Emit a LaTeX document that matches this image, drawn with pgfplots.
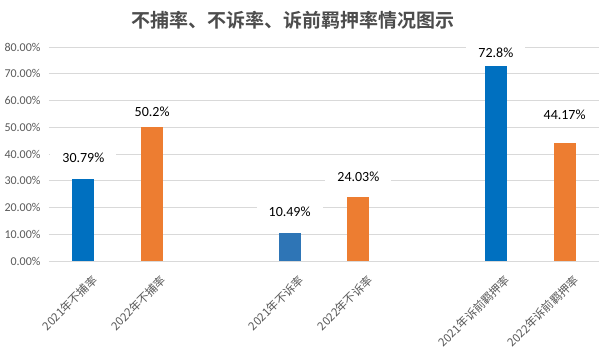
\documentclass[border=0pt]{standalone}
\usepackage{fontspec}
\usepackage{pgfplots}
\pgfplotsset{compat=1.18}
\setmainfont{Carlito}
\newfontfamily\cjk[BoldFont={Noto Sans CJK SC Bold}]{Noto Sans CJK SC}
\definecolor{blueA}{HTML}{0070C0}
\definecolor{blueB}{HTML}{2E75B6}
\definecolor{orangeA}{HTML}{ED7D31}
\definecolor{gridc}{HTML}{D9D9D9}
\definecolor{txt}{HTML}{595959}
\begin{document}
\begin{tikzpicture}
\useasboundingbox (0,0) rectangle (611pt,-353pt);
\begin{axis}[
  at={(49pt,-261pt)}, anchor=south west,
  scale only axis, width=550pt, height=214pt,
  xmin=-0.5, xmax=7.5, ymin=0, ymax=80,
  ytick={0,10,...,80},
  yticklabels={0.00\%,10.00\%,20.00\%,30.00\%,40.00\%,50.00\%,60.00\%,70.00\%,80.00\%},
  xtick={0,1,3,4,6,7},
  xticklabels={2021年不捕率,2022年不捕率,2021年不诉率,2022年不诉率,2021年诉前羁押率,2022年诉前羁押率},
  ymajorgrids, grid style={color=gridc, line width=0.8pt},
  axis line style={draw=none},
  major tick length=0pt,
  yticklabel style={font=\fontsize{12}{12}\selectfont, text=txt, anchor=east, xshift=-5pt},
  xticklabel style={font=\cjk\fontsize{11.5}{11.5}\selectfont, text=txt, xshift=8pt, yshift=-8pt, rotate=45, anchor=north east},
  title={\cjk\bfseries 不捕率、不诉率、诉前羁押率情况图示},
  title style={font=\fontsize{19}{19}\selectfont, text=black!70, at={(rel axis cs:0.5,1)}, xshift=-31pt, yshift=8pt, anchor=south},
  ybar, bar width=22pt, bar shift=0pt,
  clip=false,
  every node near coord/.append style={font=\fontsize{14}{14}\selectfont, text=black, fill=white, anchor=center, inner xsep=12pt, inner ysep=3pt},
]
\addplot[fill=blueA, draw=none, nodes near coords={30.79\%}, nodes near coords style={yshift=21pt}] coordinates {(0,30.79)};
\addplot[fill=orangeA, draw=none, nodes near coords={50.2\%}, nodes near coords style={yshift=15pt}] coordinates {(1,50.2)};
\addplot[fill=blueB, draw=none, nodes near coords={10.49\%}, nodes near coords style={yshift=21pt}] coordinates {(3,10.49)};
\addplot[fill=orangeA, draw=none, nodes near coords={24.03\%}, nodes near coords style={yshift=20pt}] coordinates {(4,24.03)};
\addplot[fill=blueA, draw=none, nodes near coords={72.8\%}, nodes near coords style={yshift=13.5pt}] coordinates {(6,72.8)};
\addplot[fill=orangeA, draw=none, nodes near coords={44.17\%}, nodes near coords style={yshift=28pt}] coordinates {(7,44.17)};
\end{axis}
\end{tikzpicture}
\end{document}
